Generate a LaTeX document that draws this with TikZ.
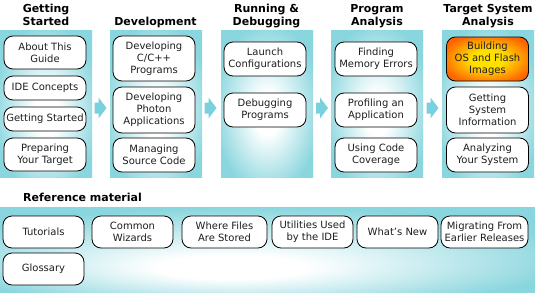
\documentclass[tikz,border=0pt]{standalone}
\usepackage{fontspec}
\setmainfont{DejaVu Sans}
\usetikzlibrary{calc}
\definecolor{panelteal}{RGB}{138,214,222}
\definecolor{arrowteal}{RGB}{122,208,220}
\definecolor{oorange}{RGB}{255,100,0}
\definecolor{oyellow}{RGB}{255,225,0}
\definecolor{txt}{RGB}{30,30,30}
\pgfdeclareradialshading{panelglow}{\pgfpoint{0bp}{-4bp}}{color(0bp)=(white); color(7bp)=(white); color(29bp)=(panelteal); color(50bp)=(panelteal)}
\pgfdeclareradialshading{refglow}{\pgfpoint{-4bp}{-12bp}}{color(0bp)=(white); color(7bp)=(white); color(30bp)=(panelteal); color(50bp)=(panelteal)}
\pgfdeclareradialshading{orangeglow}{\pgfpoint{0bp}{0bp}}{color(0bp)=(oyellow); color(10bp)=(oyellow); color(29bp)=(oorange); color(50bp)=(oorange)}
\tikzset{
  panel/.style={rectangle, inner sep=0pt, shading=panelglow, minimum width=92pt, minimum height=147pt, anchor=north west},
  refpanel/.style={rectangle, inner sep=0pt, shading=refglow, minimum width=535pt, minimum height=85pt, anchor=north west},
  topic/.style={draw=black, line width=0.8pt, fill=white, rounded corners=9pt, align=center, inner sep=0pt,
    minimum width=82pt, text=txt, font=\fontsize{10}{12}\selectfont},
  hot/.style={topic, fill=none, shading=orangeglow},
  header/.style={font=\bfseries\fontsize{11}{13}\selectfont, align=center, inner sep=0pt, anchor=north, text=black},
  flow/.style={fill=arrowteal, draw=none},
}
\begin{document}
\begin{tikzpicture}[x=1pt,y=-1pt]
\useasboundingbox (0,0) rectangle (535,292);
\fill[white] (0,0) rectangle (535,292);
% panels
\node[panel] (p1) at (0,30) {};
\node[panel] (p2) at (110,30) {};
\node[panel] (p3) at (221,30) {};
\node[panel] (p4) at (331,30) {};
\node[panel] (p5) at (442,30) {};
\node[refpanel] (pr) at (0,207) {};
% headers
\node[header] (h1) at (46,4) {Getting\\Started};
\node[header] (h2) at (155.5,16.6) {Development};
\node[header] (h3) at (266.5,4) {Running \&\\Debugging};
\node[header] (h4) at (377,4) {Program\\Analysis};
\node[header] (h5) at (488,4) {Target System\\Analysis};
\node[font=\bfseries\fontsize{11}{13}\selectfont, inner sep=0pt, anchor=base west] (hr) at (23,201) {Reference material};
% arrows between panels
\foreach \n/\cx in {a1/100.5, a2/210.5, a3/322, a4/432.5}{
  \coordinate (\n) at (\cx,108);
  \fill[flow] ($(\n)+(-6,-5.5)$) -- ($(\n)+(-2,-5.5)$) -- ($(\n)+(-2,-10.5)$) -- ($(\n)+(6,0)$)
     -- ($(\n)+(-2,10.5)$) -- ($(\n)+(-2,5.5)$) -- ($(\n)+(-6,5.5)$) -- cycle;
}
% column 1
\node[topic, minimum height=33pt] (t11) at (45,52.5) {About This\\Guide};
\node[topic, minimum height=24pt] (t12) at (45,88) {IDE Concepts};
\node[topic, minimum height=24pt] (t13) at (45,119) {Getting Started};
\node[topic, minimum height=33pt] (t14) at (45,154.5) {Preparing\\Your Target};
% column 2
\node[topic, minimum height=45pt] (t21) at (154,58.5) {Developing\\C/C++\\Programs};
\node[topic, minimum height=46pt] (t22) at (154,110) {Developing\\Photon\\Applications};
\node[topic, minimum height=34pt] (t23) at (154,155) {Managing\\Source Code};
% column 3
\node[topic, minimum height=34pt] (t31) at (265,59) {Launch\\Configurations};
\node[topic, minimum height=34pt] (t32) at (265,110) {Debugging\\Programs};
% column 4
\node[topic, minimum height=34pt] (t41) at (376,59) {Finding\\Memory Errors};
\node[topic, minimum height=34pt] (t42) at (376,110) {Profiling an\\Application};
\node[topic, minimum height=34pt] (t43) at (376,155) {Using Code\\Coverage};
% column 5
\node[hot, minimum height=44pt] (t51) at (487.5,59) {Building\\OS and Flash\\Images};
\node[topic, minimum height=46pt] (t52) at (487.5,110) {Getting\\System\\Information};
\node[topic, minimum height=34pt] (t53) at (487.5,155) {Analyzing\\Your System};
% reference material
\node[topic, minimum width=81pt, minimum height=32pt] (r1) at (43.5,232) {Tutorials};
\node[topic, minimum width=81pt, minimum height=32pt] (r2) at (132.5,232) {Common\\Wizards};
\node[topic, minimum width=85pt, minimum height=32pt] (r3) at (224.5,232) {Where Files\\Are Stored};
\node[topic, minimum width=81pt, minimum height=32pt] (r4) at (312.5,232) {Utilities Used\\by the IDE};
\node[topic, minimum width=81pt, minimum height=32pt] (r5) at (397.5,232) {What's New};
\node[topic, minimum width=87pt, minimum height=32pt] (r6) at (484.5,232) {Migrating From\\Earlier Releases};
\node[topic, minimum width=81pt, minimum height=32pt] (r7) at (43.5,269) {Glossary};
\end{tikzpicture}
\end{document}
